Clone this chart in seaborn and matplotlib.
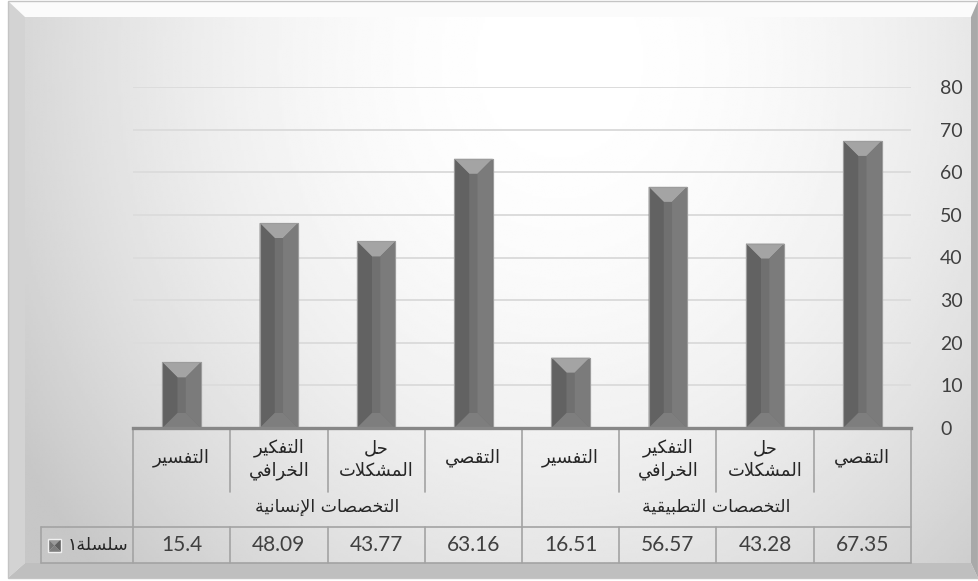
import numpy as np
import pandas as pd
import matplotlib
matplotlib.use("Agg")
import matplotlib.pyplot as plt
import seaborn as sns
from matplotlib.patches import Polygon
from matplotlib import transforms

# ---- data (listed in the sheet's right-to-left order) ----
groups = ["التخصصات التطبيقية", "التخصصات الإنسانية"]
skills = ["التقصي", "حل المشكلات", "التفكير الخرافي", "التفسير"]
applied_values = [67.35, 43.28, 56.57, 16.51]
humanities_values = [63.16, 43.77, 48.09, 15.4]
series_name = "سلسلة١"
y_ticks = [0, 10, 20, 30, 40, 50, 60, 70, 80]

# ---- minimal Arabic shaping (presentation forms + visual order) ----
FORMS = {
    "ا": ("\uFE8D", "\uFE8E", None, None),
    "إ": ("\uFE87", "\uFE88", None, None),
    "ب": ("\uFE8F", "\uFE90", "\uFE91", "\uFE92"),
    "ة": ("\uFE93", "\uFE94", None, None),
    "ت": ("\uFE95", "\uFE96", "\uFE97", "\uFE98"),
    "ح": ("\uFEA1", "\uFEA2", "\uFEA3", "\uFEA4"),
    "خ": ("\uFEA5", "\uFEA6", "\uFEA7", "\uFEA8"),
    "ر": ("\uFEAD", "\uFEAE", None, None),
    "س": ("\uFEB1", "\uFEB2", "\uFEB3", "\uFEB4"),
    "ش": ("\uFEB5", "\uFEB6", "\uFEB7", "\uFEB8"),
    "ص": ("\uFEB9", "\uFEBA", "\uFEBB", "\uFEBC"),
    "ط": ("\uFEC1", "\uFEC2", "\uFEC3", "\uFEC4"),
    "ف": ("\uFED1", "\uFED2", "\uFED3", "\uFED4"),
    "ق": ("\uFED5", "\uFED6", "\uFED7", "\uFED8"),
    "ك": ("\uFED9", "\uFEDA", "\uFEDB", "\uFEDC"),
    "ل": ("\uFEDD", "\uFEDE", "\uFEDF", "\uFEE0"),
    "م": ("\uFEE1", "\uFEE2", "\uFEE3", "\uFEE4"),
    "ن": ("\uFEE5", "\uFEE6", "\uFEE7", "\uFEE8"),
    "ي": ("\uFEF1", "\uFEF2", "\uFEF3", "\uFEF4"),
}
LAM_ALEF = {"ا": ("\uFEFB", "\uFEFC"), "إ": ("\uFEF9", "\uFEFA")}


def shape(text):
    out = []
    n = len(text)
    i = 0
    prev_joins = False
    while i < n:
        c = text[i]
        if c not in FORMS:
            out.append(c)
            prev_joins = False
            i += 1
            continue
        if c == "ل" and i + 1 < n and text[i + 1] in LAM_ALEF:
            iso, fin = LAM_ALEF[text[i + 1]]
            out.append(fin if prev_joins else iso)
            prev_joins = False
            i += 2
            continue
        nxt = text[i + 1] if i + 1 < n else None
        iso, fin, ini, med = FORMS[c]
        joins_next = ini is not None and nxt in FORMS
        if prev_joins and joins_next:
            g = med
        elif prev_joins:
            g = fin
        elif joins_next:
            g = ini
        else:
            g = iso
        out.append(g)
        prev_joins = joins_next
        i += 1
    return "".join(reversed(out))


# ---- table for seaborn ----
rows = []
for g, vals in zip(groups, [applied_values, humanities_values]):
    for s, v in zip(skills, vals):
        rows.append({"key": f"{g}|{s}", "group": g, "skill": s, "value": v})
df = pd.DataFrame(rows)
order = list(df["key"])

sns.set_style("white")
plt.rcParams["font.family"] = ["DejaVu Sans"]

W, H = 979, 581
fig = plt.figure(figsize=(W / 100, H / 100), dpi=100)
fig.patch.set_facecolor("white")

# background layer in pixel coordinates
bg = fig.add_axes([0, 0, 1, 1])
bg.set_zorder(0)
bg.axis("off")

# inner panel radial gradient
px0, px1, py0, py1 = 25, 971, 17, 563
xs = np.linspace(px0, px1, 400)
ys = np.linspace(py0, py1, 240)
XX, YY = np.meshgrid(xs, ys)
r2 = ((XX - 560) / 560) ** 2 + ((YY - 60) / 650) ** 2
shade = 1 - 0.17 * np.clip(r2, 0, 1.3)
bg.imshow(shade, extent=(px0, px1, py1, py0), cmap="gray", vmin=0, vmax=1,
          aspect="auto", interpolation="bilinear", zorder=0)

# bevelled frame
ox0, oy0, ox1, oy1 = 8, 1, 978, 578
bg.add_patch(Polygon([(ox0, oy0), (ox1, oy0), (px1, py0), (px0, py0)],
                     closed=True, fc="#fbfbfb", ec="none", zorder=1))
bg.add_patch(Polygon([(ox0, oy0), (px0, py0), (px0, py1), (ox0, oy1)],
                     closed=True, fc="#d3d3d3", ec="none", zorder=1))
bg.add_patch(Polygon([(ox0, oy1), (px0, py1), (px1, py1), (ox1, oy1)],
                     closed=True, fc="#bfbfbf", ec="none", zorder=1))
bg.add_patch(Polygon([(ox1, oy0), (px1, py0), (px1, py1), (ox1, oy1)],
                     closed=True, fc="#a9a9a9", ec="none", zorder=1))
bg.add_patch(Polygon([(ox0, oy0), (ox1, oy0), (ox1, oy1), (ox0, oy1)],
                     closed=True, fc="none", ec="#c4c4c4", lw=1.0, zorder=2))
bg.set_xlim(0, W)
bg.set_ylim(H, 0)

# ---- main bar axes ----
ax_left, ax_right, ax_top, ax_bottom = 133, 911, 87, 428
ax = fig.add_axes([ax_left / W, 1 - ax_bottom / H,
                   (ax_right - ax_left) / W, (ax_bottom - ax_top) / H])
ax.set_zorder(1)
ax.patch.set_alpha(0)

sns.barplot(data=df, x="key", y="value", order=order, color="#707070",
            saturation=1, width=0.394, edgecolor="#9c9c9c", linewidth=0.8,
            errorbar=None, ax=ax)
ax.set_xlim(len(order) - 0.5, -0.5)
ax.set_ylim(0, 80)
ax.set_yticks(y_ticks)
ax.set_axisbelow(True)
ax.yaxis.grid(True, color="#dcdcdc", lw=1.4)
ax.xaxis.grid(False)
ax.yaxis.tick_right()
ax.tick_params(axis="y", length=0, pad=21, labelsize=14, labelcolor="#404040")
for lab in ax.get_yticklabels():
    lab.set_fontfamily("Lato")
ax.set_xticks([])
ax.set_xlabel("")
ax.set_ylabel("")
for s in ["top", "left", "right"]:
    ax.spines[s].set_visible(False)
ax.spines["bottom"].set_color("#878787")
ax.spines["bottom"].set_linewidth(2.4)

# bevel faces of each bar
px_per_y = (ax_bottom - ax_top) / 80.0
px_per_x = (ax_right - ax_left) / len(order)
bev_x = 15 / px_per_x
bev_y = 15 / px_per_y
for p in ax.patches:
    x0, w, h = p.get_x(), p.get_width(), p.get_height()
    x1 = x0 + w
    by = min(bev_y, h / 2)
    faces = [
        ([(x0, h), (x1, h), (x1 - bev_x, h - by), (x0 + bev_x, h - by)], "#a4a4a4"),
        ([(x0, 0), (x0 + bev_x, by), (x0 + bev_x, h - by), (x0, h)], "#7b7b7b"),
        ([(x1, 0), (x1 - bev_x, by), (x1 - bev_x, h - by), (x1, h)], "#626262"),
        ([(x0, 0), (x1, 0), (x1 - bev_x, by), (x0 + bev_x, by)], "#7e7e7e"),
    ]
    for pts, col in faces:
        ax.add_patch(Polygon(pts, closed=True, fc=col, ec="none", zorder=p.get_zorder() + 0.1))
    ax.add_patch(Polygon([(x0, 0), (x1, 0), (x1, h), (x0, h)], closed=True,
                         fc="none", ec="#9c9c9c", lw=0.8, zorder=p.get_zorder() + 0.2))

# ---- data table under the axis ----
tr = transforms.blended_transform_factory(ax.transData, bg.transData)
line_kw = dict(color="#a3a3a3", lw=1.2, transform=tr, zorder=3)
n = len(order)
y_tab_top, y_sub_bot, y_row_top, y_row_bot = 428, 492, 527, 563
for b in [-0.5, n - 0.5]:
    bg.plot([b, b], [y_tab_top, y_row_bot], **line_kw)
for i in range(n - 1):
    b = i + 0.5
    if i == 3:
        bg.plot([b, b], [y_tab_top, y_row_bot], **line_kw)
    else:
        bg.plot([b, b], [y_tab_top, y_sub_bot], **line_kw)
        bg.plot([b, b], [y_row_top, y_row_bot], **line_kw)
legend_x = 41
for yy in [y_row_top, y_row_bot]:
    bg.plot([legend_x, ax_right], [yy, yy], color="#a3a3a3", lw=1.2, zorder=3)
bg.plot([legend_x, legend_x], [y_row_top, y_row_bot], color="#a3a3a3", lw=1.2, zorder=3)

txt_kw = dict(transform=tr, ha="center", va="center", color="#262626", zorder=4)
for i, row in df.iterrows():
    words = row["skill"].split(" ")
    if len(words) == 1:
        bg.text(i, 458, shape(words[0]), fontsize=13, **txt_kw)
    else:
        bg.text(i, 448, shape(words[0]), fontsize=13, **txt_kw)
        bg.text(i, 471, shape(words[1]), fontsize=13, **txt_kw)
    bg.text(i, 545, f"{row['value']:g}", transform=tr, ha="center", va="center",
            color="#404040", fontsize=15, fontfamily="Lato", zorder=4)

for gi, g in enumerate(groups):
    centre = gi * len(skills) + (len(skills) - 1) / 2
    bg.text(centre, 507, shape(g), fontsize=12.5, **txt_kw)

# legend key cell
lx0, lx1, ly0, ly1 = 48, 61, 539, 552
lcx, lcy = (lx0 + lx1) / 2, (ly0 + ly1) / 2
key_faces = [
    ([(lx0, ly0), (lx1, ly0), (lcx, lcy)], "#9a9a9a"),
    ([(lx0, ly0), (lcx, lcy), (lx0, ly1)], "#747474"),
    ([(lx1, ly0), (lcx, lcy), (lx1, ly1)], "#5f5f5f"),
    ([(lx0, ly1), (lx1, ly1), (lcx, lcy)], "#7e7e7e"),
]
for pts, col in key_faces:
    bg.add_patch(Polygon(pts, closed=True, fc=col, ec="none", zorder=4))
bg.add_patch(Polygon([(lx0, ly0), (lx1, ly0), (lx1, ly1), (lx0, ly1)], closed=True,
                     fc="none", ec="#f0f0f0", lw=1.0, zorder=5))
bg.text(128, 545, shape(series_name), ha="right", va="center", color="#262626",
        fontsize=12.5, zorder=4)

fig.savefig("out.png", dpi=100)
